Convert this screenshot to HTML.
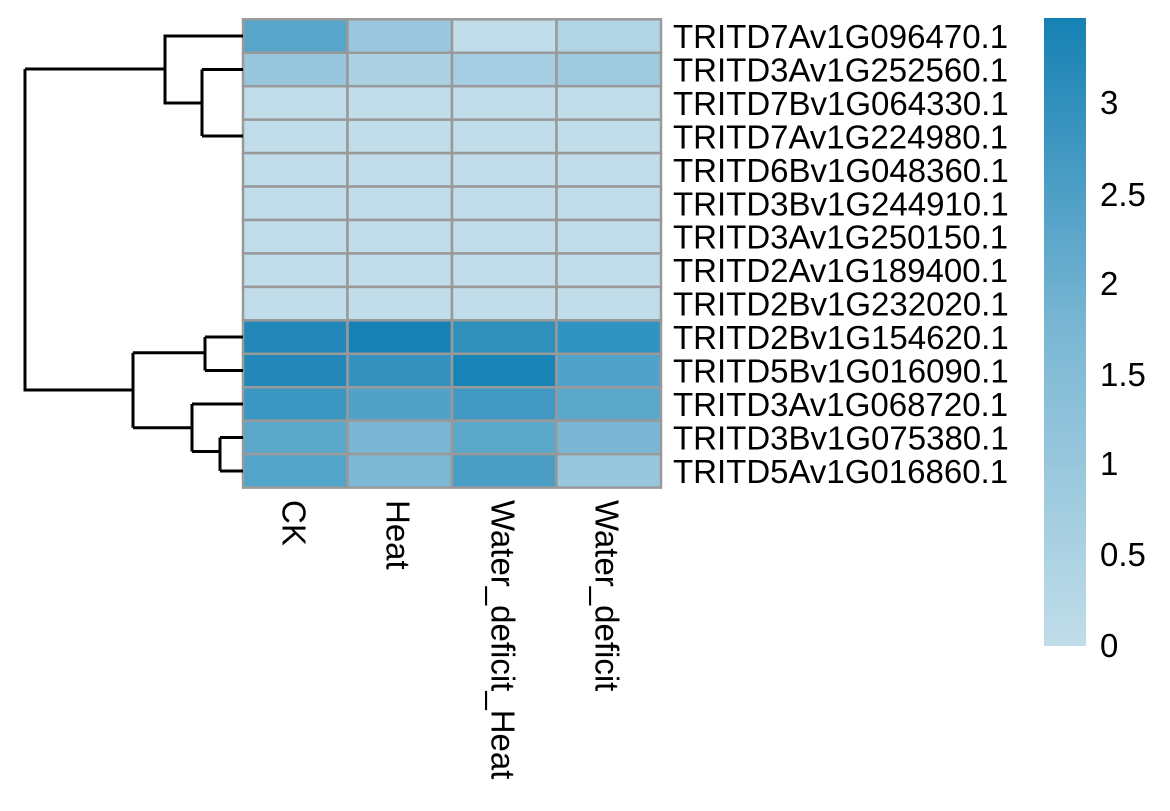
<!DOCTYPE html>
<html><head><style>body{margin:0;background:#fff}svg{display:block}text{font-family:"Liberation Sans",sans-serif;font-size:33px;fill:#000}</style></head>
<body>
<svg width="1170" height="811" xmlns="http://www.w3.org/2000/svg">
<defs><linearGradient id="g" x1="0" y1="1" x2="0" y2="0">
<stop offset="0" stop-color="#c0dde9"/><stop offset="0.5" stop-color="#7bb7d4"/><stop offset="1" stop-color="#1681b4"/></linearGradient></defs>
<g id="cells" stroke="#999" stroke-width="2.5"></g>
<g stroke="#000" stroke-width="3" fill="none">
<path d="M243 36H165V103H202M202 69.5V136M202 69.5H243M202 136H243M25 69H165M25 69V390H133M133 352.7V427.7M133 352.7H205M205 337V370.5M205 337H243M205 370.5H243M133 427.7H192M192 404V451.5M192 404H243M192 451.5H220M220 437.5V471M220 437.5H243M220 471H243"/>
</g>
<g id="labels"></g>
<g dominant-baseline="central">
<text transform="translate(294,500) rotate(90)">CK</text>
<text transform="translate(398,500) rotate(90)">Heat</text>
<text transform="translate(503,500) rotate(90)">Water_deficit_Heat</text>
<text transform="translate(607,500) rotate(90)">Water_deficit</text>
</g>
<rect x="1044" y="18" width="42" height="628" fill="url(#g)"/>
<g>
<text x="1100" y="114">3</text><text x="1100" y="206">2.5</text><text x="1100" y="295">2</text><text x="1100" y="386">1.5</text><text x="1100" y="475">1</text><text x="1100" y="566">0.5</text><text x="1100" y="657">0</text>
</g>
</svg>
<script>
var L="#c0dde9";
var C=[["#57a6c9","#9ac7dd","#c0dde9","#b2d5e5"],["#98c6dc","#abd1e3","#a6cee2","#9fcade"],[L,L,L,L],[L,L,L,L],[L,L,L,L],[L,L,L,L],[L,L,L,L],[L,L,L,L],[L,L,L,L],
["#2388b9","#1681b4","#2f90bc","#3193bf"],["#2388b9","#3591be","#1985b6","#50a2c8"],["#3b96c1","#52a2c8","#4299c3","#5ba8cb"],["#5ba8cb","#7bb7d4","#5ca8ca","#7bb7d4"],["#53a4c9","#7db8d5","#4a9dc5","#98c6dc"]];
var N=["TRITD7Av1G096470.1","TRITD3Av1G252560.1","TRITD7Bv1G064330.1","TRITD7Av1G224980.1","TRITD6Bv1G048360.1","TRITD3Bv1G244910.1","TRITD3Av1G250150.1","TRITD2Av1G189400.1","TRITD2Bv1G232020.1","TRITD2Bv1G154620.1","TRITD5Bv1G016090.1","TRITD3Av1G068720.1","TRITD3Bv1G075380.1","TRITD5Av1G016860.1"];
var s="",t="",h=33.45,w=104.5;
for(var i=0;i<14;i++){for(var j=0;j<4;j++)s+='<rect x="'+(243+j*w)+'" y="'+(19.3+i*h)+'" width="'+w+'" height="'+h+'" fill="'+C[i][j]+'"/>';
t+='<text x="673" y="'+(19.3+h*(i+0.5)+12)+'">'+N[i]+'</text>';}
document.getElementById("cells").innerHTML=s;document.getElementById("labels").innerHTML=t;
</script>
</body></html>
